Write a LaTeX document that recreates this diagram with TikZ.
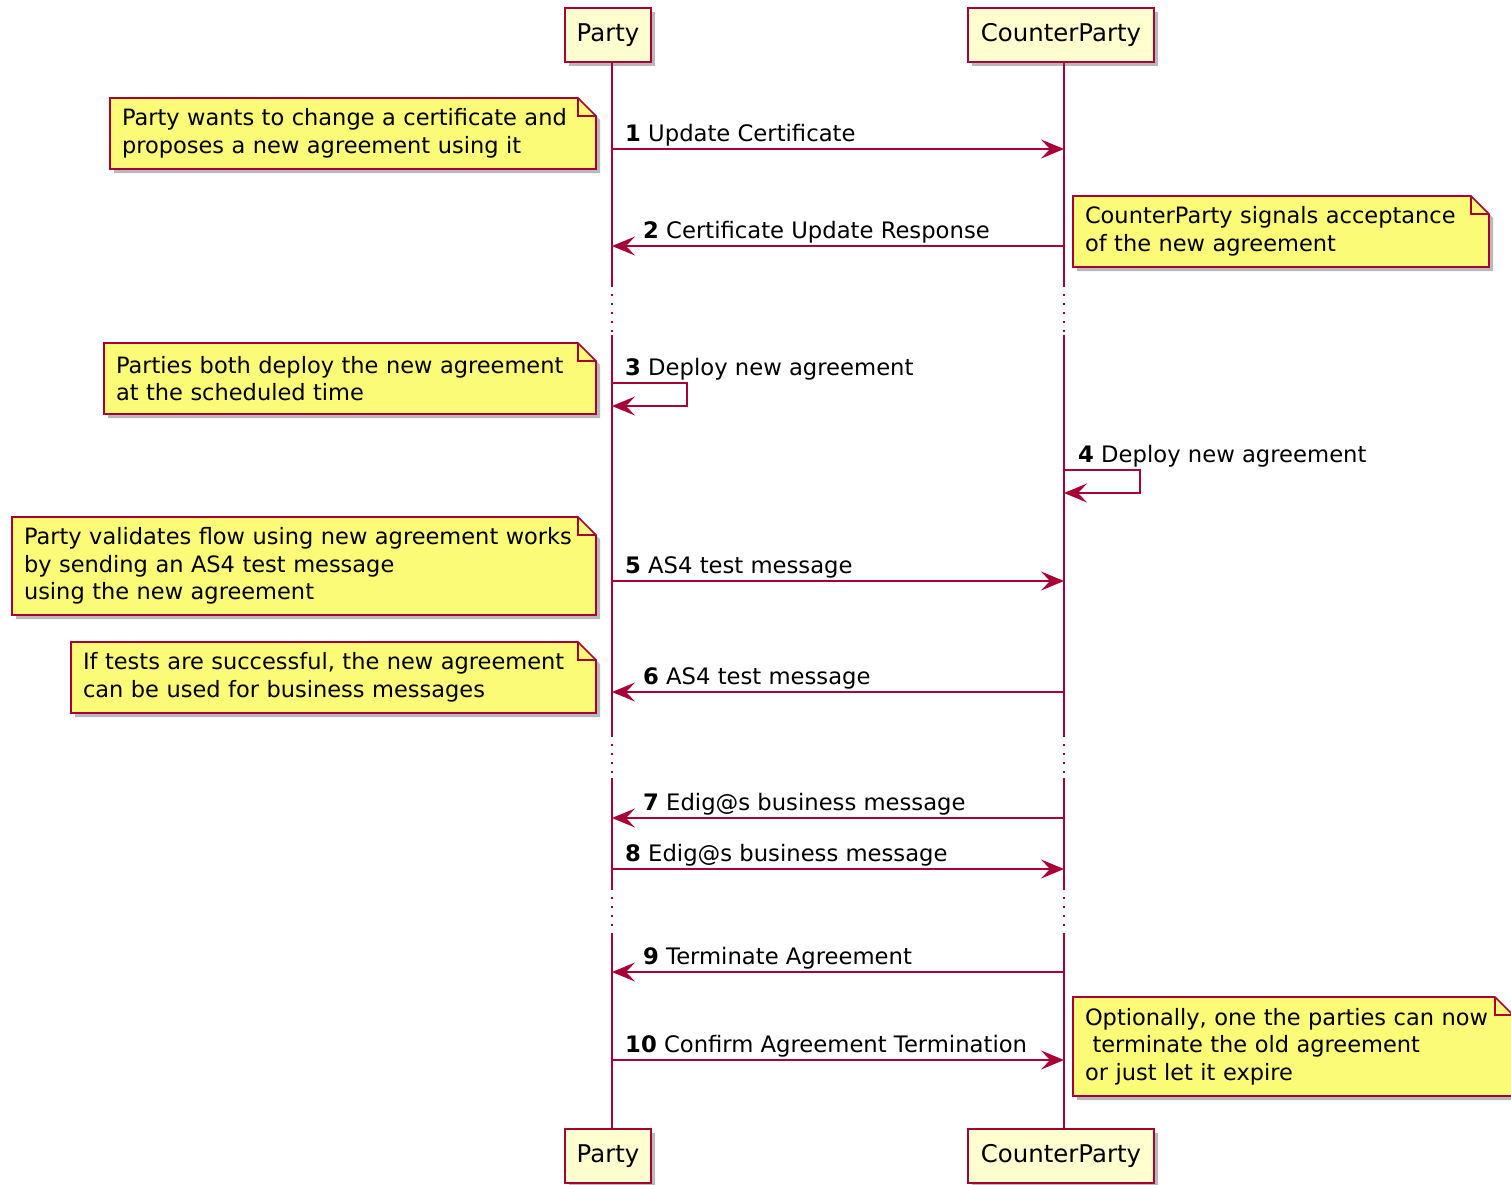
\documentclass[tikz,border=0pt]{standalone}
\usepackage{fontspec}
\setmainfont{DejaVu Sans}
\usetikzlibrary{arrows.meta,shadows}

\definecolor{umlred}{HTML}{A80036}
\definecolor{partfill}{HTML}{FEFECE}
\definecolor{notefill}{HTML}{FBFB77}

\pgfdeclarelayer{background}
\pgfsetlayers{background,main}

\tikzset{
  shade box/.style={drop shadow={shadow xshift=4pt, shadow yshift=-4pt, fill=black!55, opacity=0.5}},
  participant/.style={draw=umlred, fill=partfill, line width=2.5pt, shade box,
    minimum height=54pt, inner sep=0pt, font=\fontsize{24.4}{29}\selectfont},
  notetext/.style={anchor=north west, align=left, inner xsep=12pt, inner ysep=0pt,
    outer sep=0pt, font=\fontsize{22.5}{27.5}\selectfont},
  notebody/.style={draw=umlred, fill=notefill, line width=1.7pt, shade box},
  noteedge/.style={draw=umlred, line width=1.7pt},
  life/.style={umlred, line width=1.7pt},
  lifegap/.style={umlred, line width=1.7pt, dash pattern=on 2pt off 7pt},
  msg/.style={umlred, line width=2pt, -{Stealth[length=23pt,width=19pt,inset=9pt]}},
  lbl/.style={anchor=base west, inner sep=0pt, font=\fontsize{22.7}{27.5}\selectfont},
}

\newcommand{\notefold}[1]{%
  \begin{pgfonlayer}{background}
    \draw[notebody] (#1.south west) -- (#1.north west) -- ([xshift=-18pt]#1.north east)
      -- ([yshift=-18pt]#1.north east) -- (#1.south east) -- cycle;
    \draw[noteedge] ([xshift=-18pt]#1.north east) |- ([yshift=-18pt]#1.north east);
  \end{pgfonlayer}}

\begin{document}
\begin{tikzpicture}[x=1pt, y=-1pt]
  \useasboundingbox (0,0) rectangle (1511,1184);

  \node[participant, minimum width=86pt] (pTop) at (608,35) {Party};
  \node[participant, minimum width=186pt] (cpTop) at (1061,35) {CounterParty};
  \node[participant, minimum width=86pt] (pBot) at (608,1156) {Party};
  \node[participant, minimum width=186pt] (cpBot) at (1061,1156) {CounterParty};

  \coordinate (pL) at (612,0);
  \coordinate (cL) at (1064,0);

  \foreach \a/\b in {62/285, 335/735, 778/888, 935/1129} {
    \draw[life] (pL |- 0,\a) -- (pL |- 0,\b);
    \draw[life] (cL |- 0,\a) -- (cL |- 0,\b);
  }
  \foreach \a/\b in {285/335, 735/778, 888/935} {
    \draw[lifegap] (pL |- 0,\a) -- (pL |- 0,\b);
    \draw[lifegap] (cL |- 0,\a) -- (cL |- 0,\b);
  }

  \foreach \n/\y in {1/149, 2/246, 3/383, 4/470, 5/581, 6/692, 7/818, 8/869, 9/972, 10/1060}
    \coordinate (m\n) at (0,\y);

  \draw[msg] (pL |- m1) -- (cL |- m1);
  \draw[msg] (cL |- m2) -- (pL |- m2);
  \draw[msg] (pL |- m3) -- ++(75,0) -- ++(0,23) -- ++(-75,0);
  \draw[msg] (cL |- m4) -- ++(76,0) -- ++(0,23) -- ++(-76,0);
  \draw[msg] (pL |- m5) -- (cL |- m5);
  \draw[msg] (cL |- m6) -- (pL |- m6);
  \draw[msg] (cL |- m7) -- (pL |- m7);
  \draw[msg] (pL |- m8) -- (cL |- m8);
  \draw[msg] (cL |- m9) -- (pL |- m9);
  \draw[msg] (pL |- m10) -- (cL |- m10);

  \node[lbl] (l1) at (625,141) {\textbf{1} Update Certificate};
  \node[lbl] (l2) at (643,238) {\textbf{2} Certificate Update Response};
  \node[lbl] (l3) at (625,375) {\textbf{3} Deploy new agreement};
  \node[lbl] (l4) at (1078,462) {\textbf{4} Deploy new agreement};
  \node[lbl] (l5) at (625,573) {\textbf{5} AS4 test message};
  \node[lbl] (l6) at (643,684) {\textbf{6} AS4 test message};
  \node[lbl] (l7) at (643,810) {\textbf{7} Edig@s business message};
  \node[lbl] (l8) at (625,861) {\textbf{8} Edig@s business message};
  \node[lbl] (l9) at (643,964) {\textbf{9} Terminate Agreement};
  \node[lbl] (l10) at (625,1052) {\textbf{10} Confirm Agreement Termination};

  \node[notetext, text width=462pt, minimum height=71pt] (n1) at (110,98)
    {Party wants to change a certificate and\\proposes a new agreement using it};
  \notefold{n1}
  \node[notetext, text width=392pt, minimum height=71pt] (n2) at (1073,196)
    {CounterParty signals acceptance\\of the new agreement};
  \notefold{n2}
  \node[notetext, text width=468pt, minimum height=71pt] (n3) at (104,343)
    {Parties both deploy the new agreement\\at the scheduled time};
  \notefold{n3}
  \node[notetext, text width=560pt, minimum height=98pt] (n4) at (12,517)
    {Party validates flow using new agreement works\\by sending an AS4 test message\\using the new agreement};
  \notefold{n4}
  \node[notetext, text width=501pt, minimum height=71pt] (n5) at (71,642)
    {If tests are successful, the new agreement\\can be used for business messages};
  \notefold{n5}
  \node[notetext, text width=416pt, minimum height=99pt] (n6) at (1073,997)
    {Optionally, one the parties can now\\\ terminate the old agreement\\or just let it expire};
  \notefold{n6}
\end{tikzpicture}
\end{document}
